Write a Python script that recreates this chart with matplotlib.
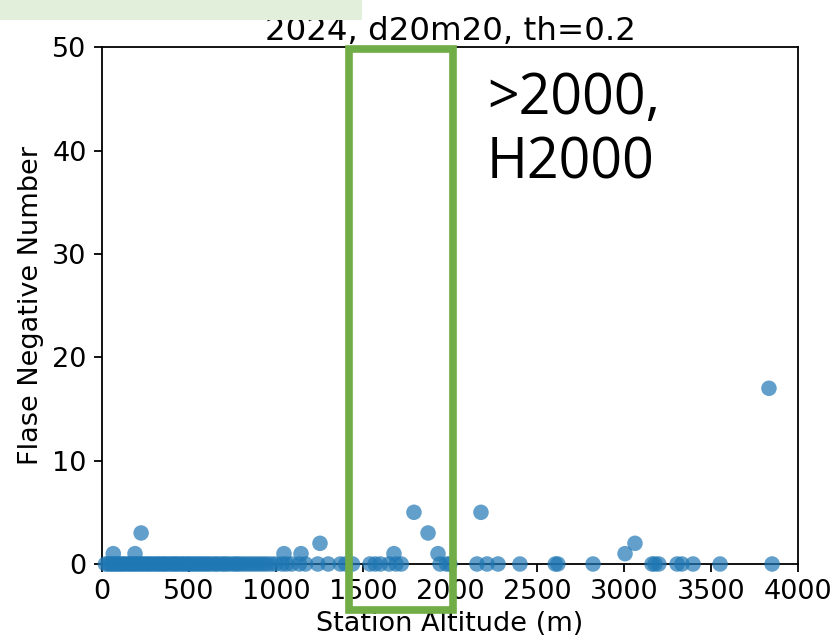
import matplotlib
matplotlib.use("Agg")
import matplotlib.pyplot as plt
import matplotlib.patches as patches

# stations with a non-zero false negative count (altitude m, count)
alt_hit = [65, 190, 225, 1046, 1144, 1253, 1678, 1793, 1874, 1931, 2178, 3006, 3063, 3833]
fn_hit = [1, 1, 3, 1, 1, 2, 1, 5, 3, 1, 5, 1, 2, 17]

# stations with zero false negatives (altitude m)
alt_zero = [20, 35, 48, 60, 72, 85, 98, 110, 122, 135, 150, 162, 175, 188, 200, 214, 228,
            240, 255, 268, 280, 295, 310, 322, 336, 350, 362, 375, 390, 405, 418, 430, 445,
            460, 472, 488, 500, 515, 530, 545, 560, 575, 590, 605, 620, 640, 655, 670, 690,
            705, 720, 740, 760, 775, 790, 810, 830, 850, 870, 890, 910, 930, 950, 975, 1000,
            1035, 1060, 1090, 1135, 1170, 1240, 1300, 1370, 1400, 1440,
            1540, 1570, 1600, 1650, 1690, 1720, 1943, 1980, 2000,
            2155, 2213, 2276, 2402, 2605, 2620, 2822, 3161, 3178, 3200,
            3305, 3333, 3397, 3552, 3851]

fig = plt.figure(figsize=(8.33, 6.38), dpi=100)
ax = fig.add_axes([0.1224, 0.116, 0.8356, 0.81])

ax.scatter(alt_zero, [0] * len(alt_zero), s=125, color="#1f77b4", alpha=0.7,
           edgecolors="none", clip_on=False, zorder=3)
ax.scatter(alt_hit, fn_hit, s=125, color="#1f77b4", alpha=0.7,
           edgecolors="none", clip_on=False, zorder=3)

ax.set_xlim(0, 4000)
ax.set_ylim(0, 50)
ax.set_xticks([0, 500, 1000, 1500, 2000, 2500, 3000, 3500, 4000])
ax.set_yticks([0, 10, 20, 30, 40, 50])
ax.tick_params(labelsize=19.5, length=6, width=1.3, pad=5)
for sp in ax.spines.values():
    sp.set_linewidth(1.3)
ax.set_xlabel("Station Altitude (m)", fontsize=19.5, labelpad=4)
ax.set_ylabel("Flase Negative Number", fontsize=19.5, labelpad=6)
ax.set_title("2024, d20m20, th=0.2", fontsize=23.4, pad=4)

# slide overlays: green frame, note text, header box
W, H = 833.0, 638.0
frame = patches.Rectangle((349 / W, 1 - 610 / H), 104 / W, 561 / H,
                          transform=fig.transFigure, fill=False,
                          edgecolor="#70AD47", linewidth=5.5, zorder=10)
fig.patches.append(frame)
fig.text(487 / W, 1 - 71 / H, ">2000,\nH2000", fontsize=40, family=["Open Sans", "DejaVu Sans"],
         ha="left", va="top", linespacing=1.17, zorder=10)
header = patches.Rectangle((0, 1 - 20 / H), 362 / W, 20 / H,
                           transform=fig.transFigure, facecolor="#E2EFDA",
                           edgecolor="none", zorder=10)
fig.patches.append(header)

plt.savefig("out.png", dpi=100)
